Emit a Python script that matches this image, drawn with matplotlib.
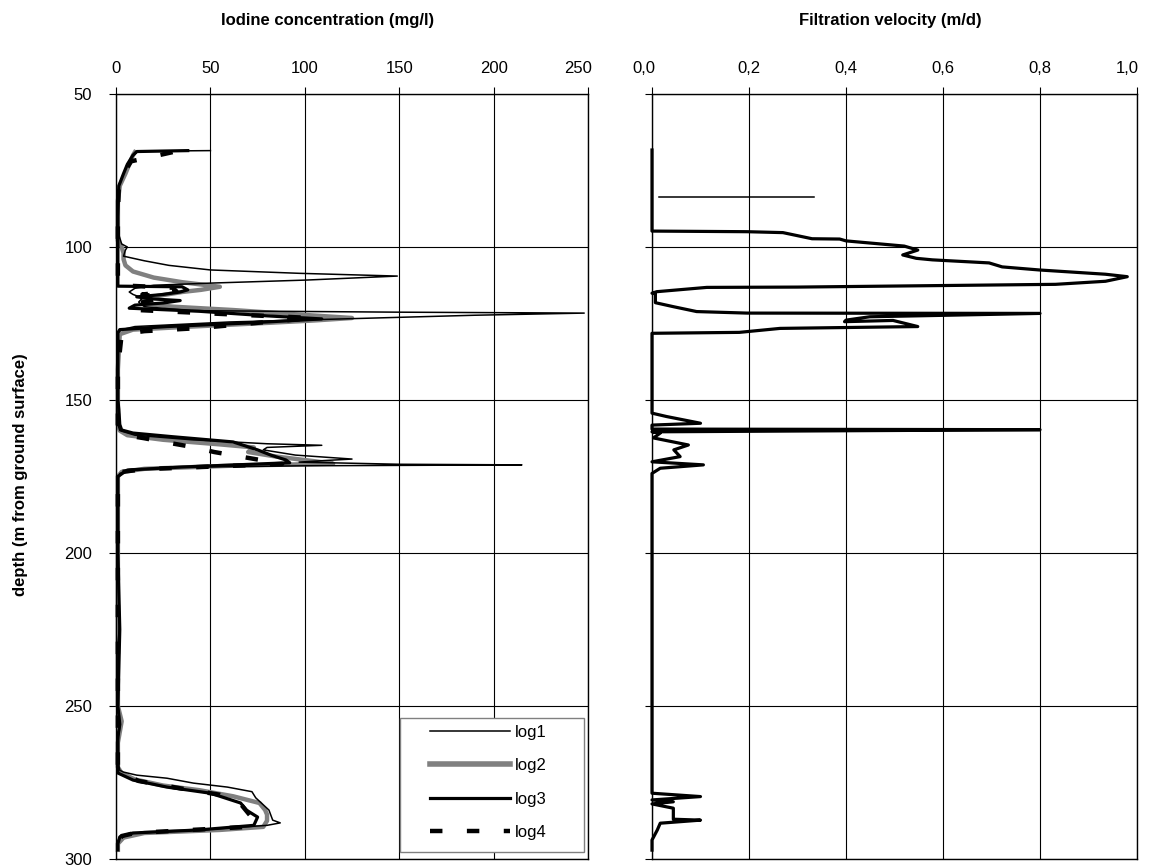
import matplotlib
matplotlib.use("Agg")
import matplotlib.pyplot as plt
from matplotlib.lines import Line2D
from matplotlib.patches import Rectangle
import matplotlib.transforms as mtransforms

plt.rcParams['font.family'] = ['Liberation Sans', 'DejaVu Sans']

# ---------------- data ----------------
log1_depth = [68.5, 68.7, 70, 73, 76, 80, 85, 95, 97, 99, 100, 101, 103, 104.5, 106, 107.5, 108.6,
              109.5, 110.8, 111.8, 112.5, 113.5, 114.7, 115.5, 116.7, 118, 119.5, 120.8, 121.3,
              121.6, 122.3, 123.5, 124.5, 126, 127, 128, 140, 155, 158, 160, 161.5, 163, 164.3,
              164.8, 165.5, 166.3, 168, 169.3, 169.8, 170.3, 171.0, 171.2, 171.5, 172, 172.9, 174,
              176, 200, 222.5, 230, 250, 257, 262, 268, 271, 271.6, 272.6, 273.6, 275.2, 276.5,
              278, 280, 284, 287.3, 288.2, 289, 290.5, 291.5, 292.5, 294, 296]
log1_conc = [50, 12, 9, 6, 4, 1.5, 1, 1, 2, 3, 6, 5, 4, 15, 28, 50, 97,
             149, 101, 50, 20, 10, 7, 9, 14, 12, 15, 40, 150,
             248, 190, 120, 60, 10, 3, 1, 0.5, 0.5, 1, 2, 10, 40, 80,
             109, 80, 78, 95, 125, 110, 97, 150, 215, 100, 27, 6, 2,
             1, 0.5, 2, 1, 1, 2, 1, 1, 2, 4, 11, 27, 41, 59,
             72, 74, 81, 83, 87, 80, 45, 10, 3, 1, 1]

log2_depth = [69, 70, 73, 76, 80, 85, 98, 100, 102, 104, 106, 108, 110, 111.5, 113, 114, 114.7,
              116, 117, 118.5, 119.5, 120.6, 122, 123.2, 124, 124.8, 126, 127, 128.5, 140, 158,
              160, 161.5, 163, 164.5, 165.5, 167, 168.5, 170, 170.8, 171.5, 172.5, 173.5, 175,
              200, 230, 250, 255, 262, 270, 272, 274, 276, 277.5, 279.5, 281.7, 284, 285.5,
              287.5, 289.5, 290.5, 291.5, 293, 295, 297]
log2_conc = [10, 9, 7, 5, 2, 1, 1, 3, 4, 4, 5, 9, 20, 35, 55, 45, 35,
             22, 14, 16, 30, 62, 95, 125, 105, 80, 40, 9, 2, 1, 1,
             2, 6, 25, 55, 73, 70, 85, 105, 115, 60, 15, 3, 1,
             1, 1, 1, 3, 1, 1, 3, 10, 25, 44, 62, 76, 79, 80,
             80, 78, 55, 15, 4, 1, 1]

log3_depth = [68.5, 68.8, 70, 73, 76, 80, 90, 100, 110, 112.8, 113.0, 114, 114.7, 115.5, 116.3,
              117, 117.5, 118.3, 119, 120, 121, 122.5, 123.5, 124.8, 126, 127, 128, 140, 150,
              153, 158, 159.8, 160.8, 162, 163.7, 166.3, 168, 169.6, 170.5, 171.9, 172.9, 175,
              200, 225, 250, 256, 260, 270, 271.9, 274.2, 276.5, 278.5, 281.7, 284, 286.3, 289,
              290.5, 291.5, 292.8, 295, 297]
log3_conc = [38, 11, 9, 6, 4, 1.5, 1, 1, 1, 1, 35, 38, 34, 25, 11,
             20, 34, 25, 10, 7, 44, 80, 109, 71, 27, 2, 1, 1, 1,
             1.5, 2, 3, 9, 30, 62, 75, 82, 90, 92, 35, 6, 1,
             1, 2, 1, 2, 1, 1, 1, 9, 27, 50, 66, 69, 75, 73,
             44, 9, 2, 1, 1]

log4_depth = [69, 72, 76, 80, 90, 112.5, 113.3, 114.5, 115.5, 116.5, 117.5, 119, 120.5, 122,
              123.2, 124.5, 126.5, 127.5, 128.5, 140, 158, 160.5, 161.5, 162.5, 164, 165.3, 167,
              168.6, 170.3, 170.9, 171.9, 172.6, 173.5, 175, 200, 250, 270, 272, 274.5, 277,
              279, 282, 285, 288, 289.5, 290.5, 291.5, 292.5, 295, 297]
log4_conc = [30, 8, 4, 1.5, 1, 1, 30, 32, 14, 25, 18, 8, 8, 60,
             104, 80, 44, 15, 3, 1, 1, 2, 5, 15, 28, 40, 52,
             67, 83, 88, 45, 15, 3, 1, 1, 1, 1, 3, 12, 35,
             55, 66, 70, 74, 70, 40, 10, 3, 1, 1]

vel_depth = [68.3, 94.8, 94.9, 95.0, 95.3, 97.3, 97.4, 98, 99.7, 101.0, 102.6, 103.7,
             104.2, 105.2, 106.5, 107.5, 108.9, 109.7, 111.2, 112.2, 113.1, 113.2, 114.6, 115.1,
             115.3, 118.2, 119.5, 121.1, 121.6, 121.7, 122.8, 123.9, 124.4, 124.0, 126.0, 126.6,
             127.9, 128.2, 154.3, 155.4, 157.6, 158.2, 159.5, 159.7, 160.4, 160.8, 162.4, 164.7,
             166.3, 168.5, 170.2, 171.2, 172.3, 174.0, 278.5, 279.6, 280.7, 281.3, 282.0, 283.4,
             287.0, 287.3, 288.3, 290.5, 293.8, 297.1]
vel_value = [0.0, 0.0, 0.10, 0.196, 0.27, 0.33, 0.387, 0.40, 0.52, 0.548, 0.517, 0.545,
             0.578, 0.695, 0.722, 0.798, 0.935, 0.98, 0.935, 0.832, 0.30, 0.113, 0.01, 0.0,
             0.007, 0.007, 0.044, 0.092, 0.196, 0.80, 0.449, 0.40, 0.397, 0.497, 0.548, 0.264,
             0.18, 0.0, 0.0, 0.03, 0.10, 0.0, 0.0, 0.80, 0.0, 0.017, 0.003, 0.075,
             0.045, 0.058, 0.0, 0.106, 0.017, 0.0, 0.0, 0.10, 0.0, 0.044, 0.0, 0.044,
             0.044, 0.10, 0.017, 0.011, 0.0, 0.0]

ref_depth = [83.5, 83.5]
ref_value = [0.015, 0.333]

conc_ticks = [0, 50, 100, 150, 200, 250]
conc_labels = ['0', '50', '100', '150', '200', '250']
vel_ticks = [0.0, 0.2, 0.4, 0.6, 0.8, 1.0]
vel_labels = ['0,0', '0,2', '0,4', '0,6', '0,8', '1,0']
depth_ticks = [50, 100, 150, 200, 250, 300]

# ---------------- figure ----------------
W, H = 1161, 868
fig = plt.figure(figsize=(W / 100, H / 100), dpi=100)
top_px, bot_px = 94, 859
ax1 = fig.add_axes([116 / W, 1 - bot_px / H, (588 - 116) / W, (bot_px - top_px) / H])
ax2 = fig.add_axes([652 / W, 1 - bot_px / H, (1137 - 652) / W, (bot_px - top_px) / H])

for ax in (ax1, ax2):
    ax.set_ylim(300, 50)
    ax.set_yticks(depth_ticks)
    ax.xaxis.tick_top()
    ax.tick_params(axis='both', direction='out', length=5, width=0.8, colors='black',
                   labelsize=12, top=True, bottom=False, left=True, right=False)
    ax.tick_params(axis='x', pad=8)
    ax.tick_params(axis='y', pad=12)
    ax.grid(True, color='black', linewidth=0.8)
    ax.set_axisbelow(True)
    for sp in ax.spines.values():
        sp.set_color('black')
        sp.set_linewidth(1.0)

ax1.set_xlim(0, 250)
ax1.set_xticks(conc_ticks)
ax1.set_xticklabels(conc_labels)
ax2.set_xlim(0, 1.0)
ax2.set_xticks(vel_ticks)
ax2.set_xticklabels(vel_labels)
ax2.tick_params(axis='y', labelleft=False)

# small label offsets as in the original
def shift(lbl, dx):
    lbl.set_transform(lbl.get_transform() + mtransforms.ScaledTranslation(dx / 100, 0, fig.dpi_scale_trans))

shift(ax1.get_xticklabels()[-1], -10)
shift(ax2.get_xticklabels()[0], -8)
shift(ax2.get_xticklabels()[-1], -10)

# ---------------- curves ----------------
ax1.plot(log2_conc, log2_depth, color='#808080', lw=3.2, solid_joinstyle='round', clip_on=False)
ax1.plot(log3_conc, log3_depth, color='black', lw=2.3, solid_joinstyle='round', clip_on=False)
ax1.plot(log4_conc, log4_depth, color='black', lw=3.2, dashes=(2.8, 5.5), clip_on=False)
ax1.plot(log1_conc, log1_depth, color='black', lw=1.1, clip_on=False)

ax2.plot(vel_value, vel_depth, color='black', lw=2.3, solid_joinstyle='round', clip_on=False)
ax2.plot(ref_value, ref_depth, color='black', lw=1.1)

# legend
leg_handles = [Line2D([], [], color='black', lw=1.1),
               Line2D([], [], color='#808080', lw=4),
               Line2D([], [], color='black', lw=2.3),
               Line2D([], [], color='black', lw=3.2, dashes=(2.8, 5.5))]
leg = ax1.legend(leg_handles, ['log1', 'log2', 'log3', 'log4'], loc='upper left',
                 bbox_to_anchor=((430 - 116) / 472, (859 - 725) / 765), frameon=False,
                 borderpad=0, borderaxespad=0, handlelength=4.8, handletextpad=0.3,
                 labelspacing=1.1, fontsize=12)
ax1.add_patch(Rectangle(((400 - 116) / 472, (859 - 852) / 765), (584 - 400) / 472,
                        (852 - 718) / 765, transform=ax1.transAxes, facecolor='white',
                        edgecolor='#808080', lw=1.0, zorder=4))
leg.set_zorder(5)

# titles
fig.text(328 / W, 1 - 21 / H, 'Iodine concentration (mg/l)', ha='center', va='center',
         fontsize=12, fontweight='bold')
fig.text(890 / W, 1 - 21 / H, 'Filtration velocity (m/d)', ha='center', va='center',
         fontsize=12, fontweight='bold')
fig.text(21 / W, 1 - 475 / H, 'depth (m from ground surface)', ha='center', va='center',
         rotation=90, fontsize=12, fontweight='bold')

fig.savefig('out.png', dpi=100)
